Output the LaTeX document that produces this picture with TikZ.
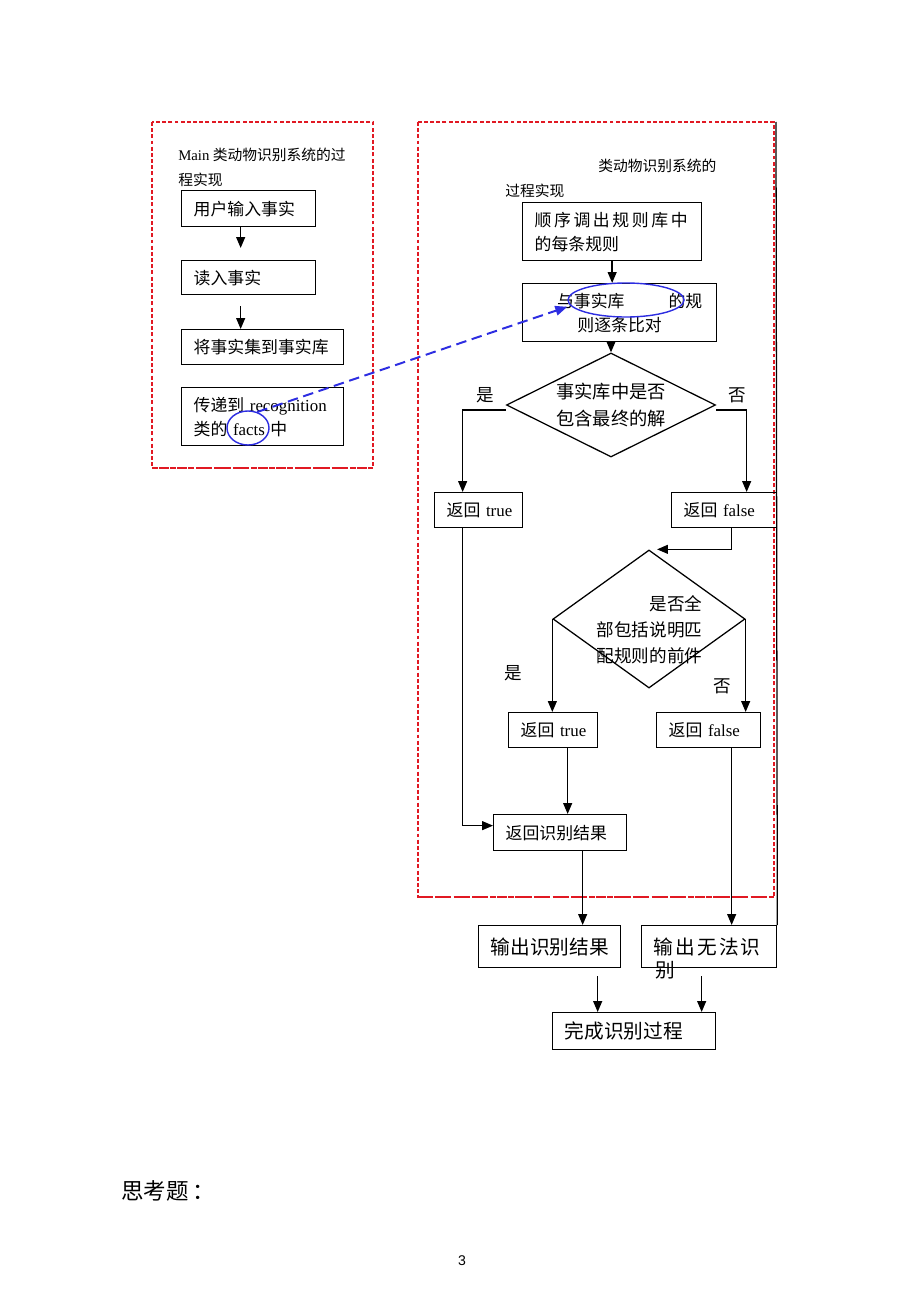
\documentclass[tikz,border=0pt]{standalone}
\usepackage{fontspec}
\setmainfont{Noto Sans CJK SC}
\newfontfamily\tm{Liberation Serif}
\newfontfamily\ar{Liberation Sans}
\usetikzlibrary{arrows.meta,shapes.geometric}
\definecolor{dashred}{RGB}{225,25,35}
\definecolor{markblue}{RGB}{45,45,225}
\tikzset{
	pbox/.style={draw, line width=0.9pt, anchor=north west, inner xsep=0.3cm, inner ysep=0pt, align=left, font=\fontsize{12}{17}\selectfont},
	arr/.style={line width=1pt, -{Triangle[length=0.27cm,width=0.22cm]}},
	frame/.style={dashred, line width=0.9pt, dash pattern=on 2.8pt off 1.6pt},
	framebot/.style={dashred, line width=1.5pt, dash pattern=on 4.3pt off 2.1pt},
	hl/.style={ellipse, draw=markblue, line width=1pt, inner sep=0},
	lbl/.style={inner sep=0, font=\fontsize{12.5}{15}\selectfont},
	ttl/.style={anchor=west, inner sep=0, font=\fontsize{10.5}{13}\selectfont},
}
\begin{document}
\begin{tikzpicture}[x=0.025cm,y=-0.025cm]
			\useasboundingbox (0,0) rectangle (920,1301);
			\draw[frame] (152,122) rectangle (373,468);
			\draw[frame] (418,122) rectangle (774,897);
			\draw[framebot] (152,468) -- (373,468);
			\draw[framebot] (418,897) -- (774,897);
			\node[ttl] (mtitle) at (178,155) {{\tm Main} 类动物识别系统的过};
			\node[ttl] (mtitle2) at (178,180) {程实现};
			\node[pbox, text width=2.75cm, minimum height=0.9cm] (input) at (181,190) {用户输入事实};
			\node[pbox, text width=2.75cm, minimum height=0.85cm] (read) at (181,260) {读入事实};
			\node[pbox, text width=3.45cm, minimum height=0.875cm] (store) at (181,329) {将事实集到事实库};
			\node[pbox, text width=3.45cm, minimum height=1.45cm] (pass) at (181,387) {传递到~{\tm recognition}\\类的~{\tm facts}~中};
			\node[ttl] (rtitle) at (598,166) {类动物识别系统的};
			\node[ttl] (rtitle2) at (505,191) {过程实现};
			\node[pbox, text width=3.875cm, minimum height=1.45cm] (fetch) at (522,202) {\makebox[3.825cm][s]{顺\hfil 序\hfil 调\hfil 出\hfil 规\hfil 则\hfil 库\hfil 中}\\的每条规则};
			\node[pbox, align=center, text width=4.25cm, minimum height=1.45cm] (match) at (522,283) {\hspace*{0.5cm}与事实库\hspace{1.1cm}的规\\则逐条比对};
			\node[diamond, draw, line width=0.9pt, aspect=2, inner sep=0, minimum width=5.225cm, minimum height=2.6cm, align=center, font=\fontsize{13}{19}\selectfont] (final) at (611,405) {事实库中是否\\包含最终的解};
			\node[pbox, text width=1.6cm, minimum height=0.875cm] (yes1) at (434,492) {返回~{\tm true}};
			\node[pbox, text width=2.025cm, minimum height=0.875cm] (no1) at (671,492) {返回~{\tm false}};
			\node[diamond, draw, line width=0.9pt, inner sep=0, minimum width=4.8cm, minimum height=3.45cm] (premise) at (649,619) {};
			\node[align=right, inner sep=0, font=\fontsize{12.5}{18.5}\selectfont] (premtxt) at (649.5,630) {是否全\\部包括说明匹\\配规则的前件};
			\node[pbox, text width=1.625cm, minimum height=0.875cm] (yes2) at (508,712) {返回~{\tm true}};
			\node[pbox, text width=2cm, minimum height=0.875cm] (no2) at (656,712) {返回~{\tm false}};
			\node[pbox, text width=2.725cm, minimum height=0.9cm] (result) at (493,814) {返回识别结果};
			\node[pbox, text width=2.95cm, minimum height=1.05cm, font=\fontsize{14}{17}\selectfont] (output) at (478,925) {输出识别结果};
			\node[pbox, text width=2.775cm, minimum height=1.05cm, font=\fontsize{14}{17}\selectfont] (fail) at (641,925) {\makebox[2.675cm][s]{输\hfil 出\hfil 无\hfil 法\hfil 识}};
			\node[anchor=west, inner sep=0, font=\fontsize{14}{17}\selectfont] (failtail) at (655,970) {别};
			\node[pbox, text width=3.475cm, minimum height=0.925cm, font=\fontsize{14}{17}\selectfont] (finish) at (552,1012) {完成识别过程};
			\draw[line width=0.9pt] (776,122) -- (fail.north east);
			\node[lbl] (l1y) at (485,395) {是};
			\node[lbl] (l1n) at (737,395) {否};
			\node[lbl] (l2y) at (513,673) {是};
			\node[lbl] (l2n) at (722,686) {否};
			\node[hl, minimum width=1.05cm, minimum height=0.85cm] (efacts) at (248,428) {};
			\node[hl, minimum width=2.9cm, minimum height=0.85cm] (erule) at (626,300) {};
			\draw[markblue, line width=1.4pt, dash pattern=on 7.5pt off 4pt, -{Triangle[length=0.3cm,width=0.24cm]}] (efacts.60) -- ([yshift=-0.17cm]erule.west);
			\draw[arr] ([xshift=-0.2cm]input.south) -- ([xshift=-0.2cm,yshift=0.3cm]read.north -| input.south);
			\draw[arr, shorten <=0.275cm] ([xshift=-0.2cm]read.south) -- ([xshift=-0.2cm]read.south |- store.north);
			\draw[arr] (fetch.south) -- (fetch.south |- match.north);
			\draw[arr] (match.south -| final.north) -- (final.north);
			\draw[arr] ([yshift=-0.125cm]final.west) -| ([xshift=-0.4cm]yes1.north);
			\draw[arr] ([yshift=-0.125cm]final.east) -| ([xshift=0.5625cm]no1.north);
			\draw[arr] ([xshift=0.1875cm]no1.south) |- ([xshift=0.2cm]premise.north);
			\draw[arr] (premise.west) -- (premise.west |- yes2.north);
			\draw[arr] (premise.east) -- (premise.east |- no2.north);
			\draw[arr] ([xshift=-0.4cm]yes1.south) |- ([yshift=0.175cm]result.west);
			\draw[arr] ([xshift=0.3625cm]yes2.south) -- ([xshift=0.3625cm]yes2.south |- result.north);
			\draw[arr] ([xshift=0.575cm]no2.south) -- ([xshift=0.575cm]no2.south |- fail.north);
			\draw[arr] ([xshift=0.5625cm]result.south) -- ([xshift=0.5625cm]result.south |- output.north);
			\draw[arr, shorten <=0.2cm] ([xshift=1.2cm]output.south) -- ([xshift=1.2cm]output.south |- finish.north);
			\draw[arr, shorten <=0.2cm] ([xshift=-0.1875cm]fail.south) -- ([xshift=-0.1875cm]fail.south |- finish.north);
			\node[anchor=west, inner sep=0, font=\fontsize{16}{19}\selectfont] (think) at (121,1191) {思考题\hspace{0.1cm}：};
			\node[inner sep=0, font=\ar\fontsize{10}{12}\selectfont] (page) at (462,1261) {3};
\end{tikzpicture}
\end{document}
